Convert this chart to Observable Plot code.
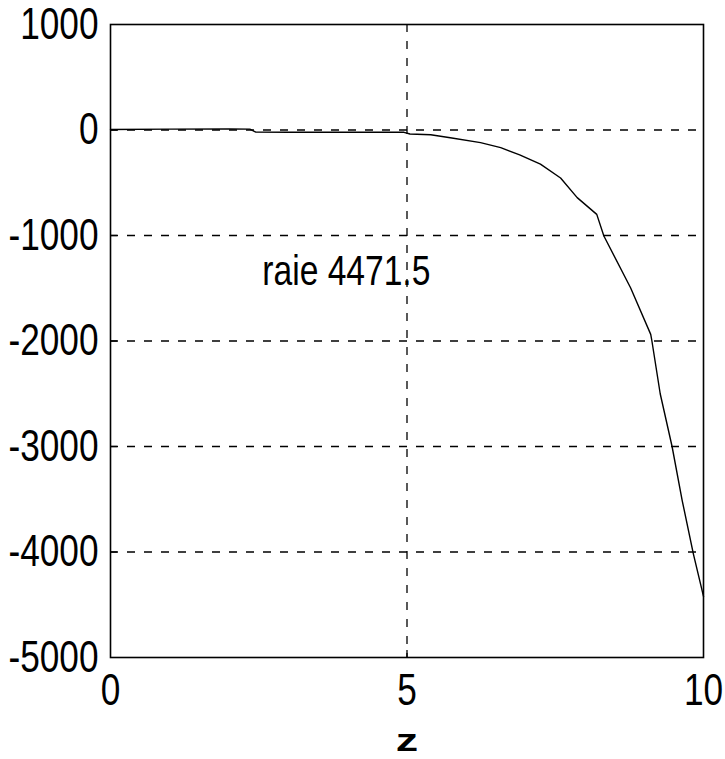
<!DOCTYPE html>
<html>
<head>
<meta charset="utf-8">
<script src="https://cdn.jsdelivr.net/npm/d3@7"></script>
<script src="https://cdn.jsdelivr.net/npm/@observablehq/plot@0.6"></script>
<style>
  html, body { margin: 0; padding: 0; background: #fff; }
</style>
</head>
<body>
<div id="chart"></div>
<script>
const zValues = [0, 1, 2, 2.35, 2.45, 3, 4, 4.95, 5.05, 5.4, 5.73, 6.24, 6.58, 6.9, 7.25, 7.59, 7.87, 8.2, 8.32, 8.77, 9.11, 9.13, 9.27, 9.47, 9.64, 9.83, 10];
const series = [5, 8, 10, 8, -20, -22, -22, -22, -38, -45, -73, -120, -167, -235, -324, -455, -641, -800, -1005, -1495, -1937, -2000, -2500, -3000, -3510, -4020, -4420];
const yTicks = [1000, 0, -1000, -2000, -3000, -4000, -5000];
const yGrid = [0, -1000, -2000, -3000, -4000];
const xTicks = [0, 5, 10];
const xGrid = [5];
const annotation = ["raie 4471.5"];
const xLabel = "z";

const data = zValues.map((z, i) => ({z, v: series[i]}));
const font = "'Liberation Sans', Arial, sans-serif";

const chart = Plot.plot({
  width: 725,
  height: 759,
  marginLeft: 110,
  marginRight: 22,
  marginTop: 24,
  marginBottom: 102,
  style: {fontFamily: font, fontSize: "44px", color: "#000", background: "#fff"},
  x: {domain: [0, 10]},
  y: {domain: [-5000, 1000]},
  marks: [
    Plot.gridY(yGrid, {stroke: "#000", strokeOpacity: 1, strokeWidth: 1.3, strokeDasharray: "8,9"}),
    Plot.gridX(xGrid, {stroke: "#000", strokeOpacity: 1, strokeWidth: 1.3, strokeDasharray: "8,9"}),
    Plot.axisY(yTicks, {tickSize: 0, tickPadding: 12, tickFormat: d => String(d), label: null, fontSize: 44, className: "narrow"}),
    Plot.axisX(xTicks, {tickSize: 0, tickPadding: 16, tickFormat: d => String(d), label: null, fontSize: 44, className: "narrow"}),
    Plot.axisY(yGrid, {tickSize: -7, text: null, label: null, stroke: "#000", strokeWidth: 1.3}),
    Plot.axisX(xGrid, {tickSize: -7, text: null, label: null, stroke: "#000", strokeWidth: 1.3}),
    Plot.line(data, {x: "z", y: "v", stroke: "#000", strokeWidth: 1.4}),
    Plot.text(annotation, {x: 2.56, y: -1340, text: d => d, textAnchor: "start", lineAnchor: "middle", fontSize: 42, fill: "#000", className: "narrow"}),
    Plot.text([xLabel], {frameAnchor: "bottom", dy: 83, text: d => d, lineAnchor: "middle", fontSize: 32, fontWeight: "bold", fill: "#000", className: "wide"}),
    Plot.frame({stroke: "#000", strokeWidth: 1.6})
  ]
});
document.getElementById("chart").appendChild(chart);

// horizontally condense the tick labels and annotation, widen the z label
function rescale(sel, sx) {
  d3.select(chart).selectAll(sel).each(function () {
    const t = this.getAttribute("transform") || "";
    this.setAttribute("transform", (t + ` scale(${sx},1)`).trim());
  });
}
rescale(".narrow text", 0.8);
rescale(".wide text", 1.4);
</script>
</body>
</html>
